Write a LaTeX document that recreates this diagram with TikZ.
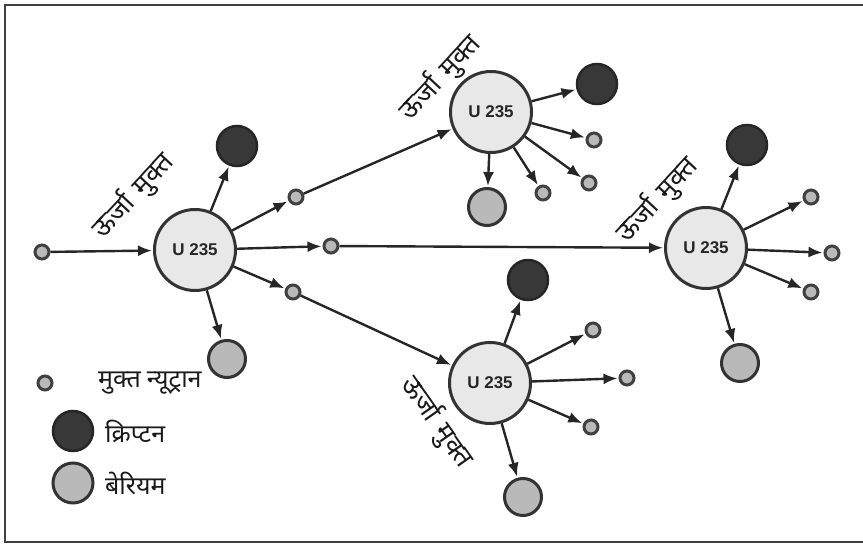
\documentclass[tikz,border=0pt]{standalone}
\usepackage{fontspec}
\setsansfont{Liberation Sans}
\newfontfamily\deva[Script=Devanagari]{Noto Sans}
\usetikzlibrary{arrows.meta}
\tikzset{
  x=1pt,y=-1pt,
  uran/.style={circle,draw=black!80,line width=3pt,fill=gray!18,minimum size=81pt,inner sep=0pt,font=\sffamily\bfseries\fontsize{17}{17}\selectfont,text=black!85},
  kr/.style={circle,draw=black!85,line width=2.5pt,fill=black!78,minimum size=40pt,inner sep=0pt},
  ba/.style={circle,draw=black!80,line width=3pt,fill=gray!55,minimum size=37pt,inner sep=0pt},
  neu/.style={circle,draw=black!75,line width=3pt,fill=gray!55,minimum size=14pt,inner sep=0pt},
  arr/.style={line width=2.4pt,draw=black!85,-{Latex[length=14pt,width=11pt]},shorten >=1pt},
  lbl/.style={font=\deva\fontsize{25}{25}\selectfont,text=black!90,inner sep=0pt},
  rlbl/.style={font=\deva\fontsize{27}{27}\selectfont,text=black!90,inner sep=0pt},
  frame/.style={draw=black!75,line width=2.5pt}
}
\begin{document}
\begin{tikzpicture}
\useasboundingbox (0,0) rectangle (863,546);
\clip (0,0) rectangle (863,546);
\draw[frame] (5,5) rectangle (875,542);

% first fission
\node[neu] (n0) at (42,252) {};
\node[uran] (u1) at (195,250) {U 235};
\node[kr] (k1) at (237,146) {};
\node[ba] (b1) at (227,359) {};
\node[neu] (n1a) at (296,197) {};
\node[neu] (n1b) at (331,246) {};
\node[neu] (n1c) at (293,292) {};
\draw[arr] (n0) -- (u1);
\draw[arr] (u1) -- (k1);
\draw[arr] (u1) -- (b1);
\draw[arr] (u1) -- (n1a);
\draw[arr] (u1) -- (n1b);
\draw[arr] (u1) -- (n1c);
\node[rlbl,rotate=47] (l1) at (133,196) {ऊर्जा\hspace{10pt}मुक्त};

% top fission
\node[uran] (u2) at (491,112) {U 235};
\node[kr] (k2) at (597,84) {};
\node[ba] (b2) at (487,207) {};
\node[neu] (n2a) at (594,140) {};
\node[neu] (n2b) at (589,183) {};
\node[neu] (n2c) at (543,193) {};
\draw[arr] (n1a) -- (u2);
\draw[arr] (u2) -- (k2);
\draw[arr] (u2) -- (b2);
\draw[arr] (u2) -- (n2a);
\draw[arr] (u2) -- (n2b);
\draw[arr] (u2) -- (n2c);
\node[rlbl,rotate=47] (l2) at (440,78) {ऊर्जा\hspace{10pt}मुक्त};

% right fission
\node[uran] (u3) at (706,248) {U 235};
\node[kr] (k3) at (747,145) {};
\node[ba] (b3) at (740,363) {};
\node[neu] (n3a) at (811,197) {};
\node[neu] (n3b) at (832,253) {};
\node[neu] (n3c) at (811,292) {};
\draw[arr] (n1b) -- (u3);
\draw[arr] (u3) -- (k3);
\draw[arr] (u3) -- (b3);
\draw[arr] (u3) -- (n3a);
\draw[arr] (u3) -- (n3b);
\draw[arr] (u3) -- (n3c);
\node[rlbl,rotate=47] (l3) at (657,200) {ऊर्जा\hspace{10pt}मुक्त};

% bottom fission
\node[uran] (u4) at (490,383) {U 235};
\node[kr] (k4) at (528,280) {};
\node[ba] (b4) at (523,497) {};
\node[neu] (n4a) at (593,330) {};
\node[neu] (n4b) at (627,378) {};
\node[neu] (n4c) at (591,427) {};
\draw[arr] (n1c) -- (u4);
\draw[arr] (u4) -- (k4);
\draw[arr] (u4) -- (b4);
\draw[arr] (u4) -- (n4a);
\draw[arr] (u4) -- (n4b);
\draw[arr] (u4) -- (n4c);
\node[rlbl,rotate=-55] (l4) at (437,422) {ऊर्जा\hspace{10pt}मुक्त};

% legend
\node[neu] (gn) at (45,383) {};
\node[lbl,anchor=west] (gnt) at (98,383) {मुक्त\hspace{6pt}न्यूट्रान};
\node[kr] (gk) at (73,431) {};
\node[lbl,anchor=west] (gkt) at (105,431) {क्रिप्टन};
\node[ba,minimum size=40pt] (gb) at (73,483) {};
\node[lbl,anchor=west] (gbt) at (105,483) {बेरियम};
\end{tikzpicture}
\end{document}
